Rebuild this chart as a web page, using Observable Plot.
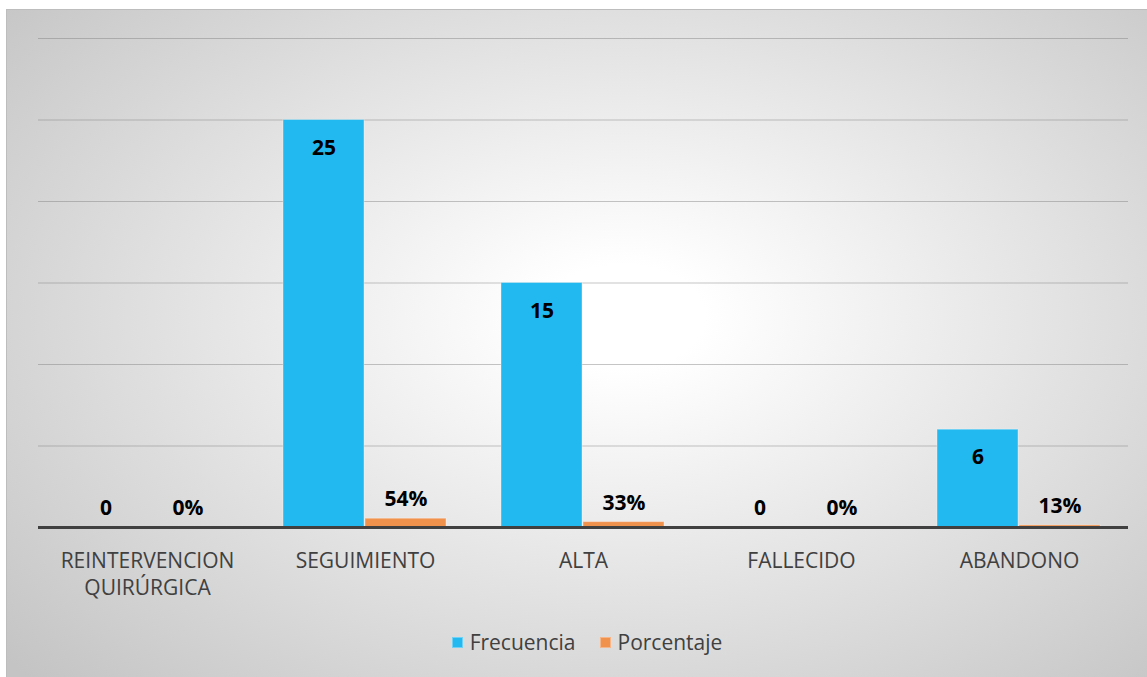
<!DOCTYPE html>
<html>
<head>
<meta charset="utf-8">
<script src="https://cdn.jsdelivr.net/npm/d3@7"></script>
<script src="https://cdn.jsdelivr.net/npm/@observablehq/plot@0.6"></script>
<style>
  body { margin: 0; background: #ffffff; font-family: "Open Sans", sans-serif; }
  #panel {
    position: absolute; left: 6px; top: 9px; width: 1141px; height: 668px;
    box-sizing: border-box;
    border-left: 1px solid #bdbdbd; border-top: 1px solid #bdbdbd;
    background: radial-gradient(ellipse 72% 78% at 54% 46%, #ffffff 0%, #ffffff 10%, #c4c4c4 100%);
  }
  #chart svg { display: block; }
  #legend {
    position: absolute; left: 0; top: 620px; width: 100%; height: 24px;
    display: flex; justify-content: center; align-items: center;
    padding-left: 20px; box-sizing: border-box;
    font-size: 21px; color: #404040;
  }
  .item { display: flex; align-items: center; margin: 0 12px; }
  .swatch { width: 11px; height: 11px; margin-right: 7px; box-sizing: border-box; }
</style>
</head>
<body>
<div id="panel">
  <div id="chart"></div>
  <div id="legend"></div>
</div>
<script>
// Estado de los pacientes al final del seguimiento
const categorias = ["REINTERVENCION QUIRÚRGICA", "SEGUIMIENTO", "ALTA", "FALLECIDO", "ABANDONO"];
const frecuencia = [0, 25, 15, 0, 6];
const porcentaje = [0, 0.54, 0.33, 0, 0.13];
const series = ["Frecuencia", "Porcentaje"];
const colores = ["#22b9f0", "#f0914c"];
const lineasGuia = [5, 10, 15, 20, 25, 30];

const fmtPct = d3.format(".0%");
const filas = categorias.flatMap((c, i) => [
  { categoria: c, serie: "Frecuencia", valor: frecuencia[i], etiqueta: String(frecuencia[i]) },
  { categoria: c, serie: "Porcentaje", valor: porcentaje[i], etiqueta: fmtPct(porcentaje[i]) }
]);

// Etiquetas: frecuencias dentro de la barra, ceros y porcentajes por encima
const dentro = filas.filter(d => d.serie === "Frecuencia" && d.valor > 0);
const encima = filas.filter(d => !(d.serie === "Frecuencia" && d.valor > 0));

const chart = Plot.plot({
  width: 1140,
  height: 600,
  marginLeft: 29,
  marginRight: 18,
  marginTop: 28,
  marginBottom: 83,
  style: { background: "transparent", fontFamily: "'Open Sans', sans-serif", fontSize: "21px", color: "#404040" },
  fx: { domain: categorias, padding: 0, axis: null },
  x: { domain: series, paddingInner: 0.01, paddingOuter: 0.33, axis: null },
  y: { domain: [0, 30], axis: null },
  color: { domain: series, range: colores },
  marks: [
    Plot.ruleY(lineasGuia, { stroke: "#7f7f7f", strokeOpacity: 0.45 }),
    Plot.barY(filas, {
      fx: "categoria", x: "serie", y: "valor", fill: "serie",
      stroke: "#ffffff", strokeOpacity: 0.35, strokeWidth: 1
    }),
    Plot.ruleY([0], { stroke: "#404040", strokeWidth: 3 }),
    Plot.text(dentro, {
      fx: "categoria", x: "serie", y: "valor", text: "etiqueta",
      dy: 28, fontWeight: "bold", fontSize: 21, fill: "#000000"
    }),
    Plot.text(encima, {
      fx: "categoria", x: "serie", y: "valor", text: "etiqueta",
      dy: -19, fontWeight: "bold", fontSize: 21, fill: "#000000"
    }),
    Plot.axisFx({
      anchor: "bottom", tickSize: 0, tickPadding: 22, lineHeight: 1.27,
      label: null, fill: "#404040", fontSize: 21,
      tickFormat: d => d.replace(" ", "\n")
    })
  ]
});
document.getElementById("chart").appendChild(chart);

// Leyenda
const legend = document.getElementById("legend");
series.forEach((s, i) => {
  const item = document.createElement("div");
  item.className = "item";
  const sw = document.createElement("span");
  sw.className = "swatch";
  sw.style.background = colores[i];
  sw.style.border = "1px solid rgba(255,255,255,0.35)";
  const label = document.createElement("span");
  label.textContent = s;
  item.appendChild(sw);
  item.appendChild(label);
  legend.appendChild(item);
});
</script>
</body>
</html>
